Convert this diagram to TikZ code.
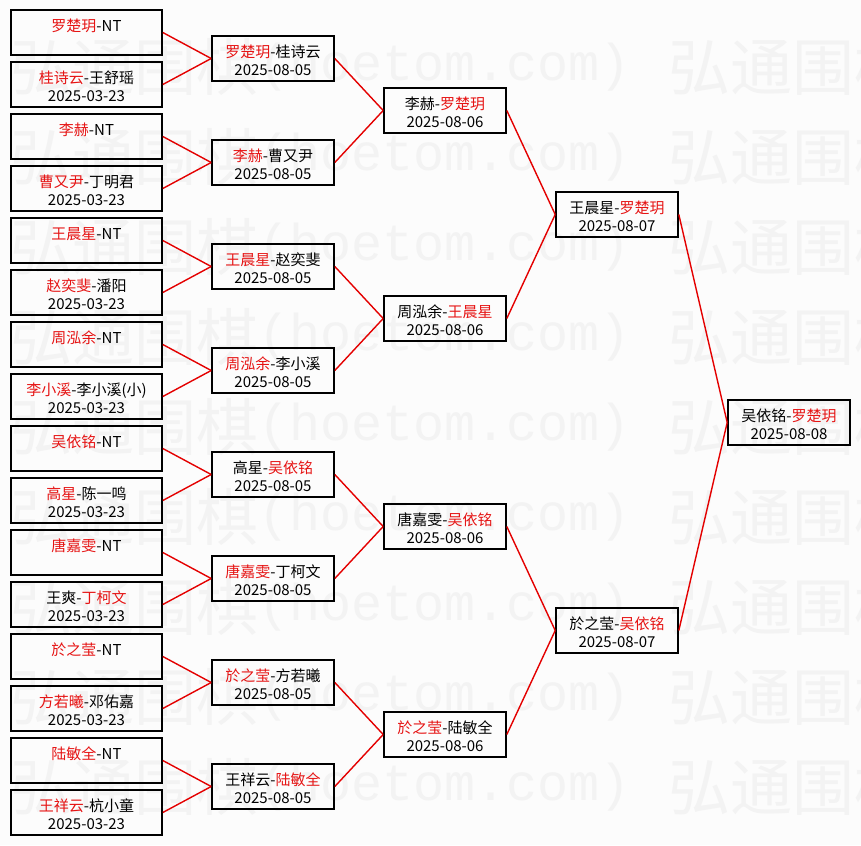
\documentclass[tikz,border=0pt]{standalone}
\usepackage{fontspec}
\setmainfont{Noto Sans CJK SC}
\newfontfamily\wmmono{Liberation Mono}
\definecolor{winred}{RGB}{230,20,20}
\definecolor{linered}{RGB}{228,0,0}
\definecolor{wmgray}{RGB}{243,243,243}
\definecolor{bggray}{RGB}{252,252,252}
\newcommand{\W}[1]{\textcolor{winred}{#1}}
\newcommand{\gm}[5]{%
  \node[#4] (#1) at (#2,#3) {};
  \node[gametext] (#1t) at ([yshift=-1.8pt]#1.center) {#5};}
\begin{document}
\begin{tikzpicture}[x=1pt,y=-1pt,
  gamebox/.style={draw=black, line width=1.6pt, rectangle, inner sep=0pt,
    minimum height=45pt, minimum width=122pt},
  firstbox/.style={gamebox, minimum width=151pt},
  gametext/.style={inner sep=0pt, align=center, font=\fontsize{15}{18.5}\selectfont},
  link/.style={draw=linered, line width=1.4pt},
  wmcjk/.style={text=wmgray, font=\fontsize{62}{62}\selectfont, inner sep=0pt, anchor=west},
  wmlat/.style={text=wmgray, font=\wmmono\fontsize{51.7}{52}\selectfont, inner sep=0pt, anchor=west},
]
\useasboundingbox[fill=bggray] (0,0) rectangle (861,845);

% watermark
\begin{scope}
\clip (0,0) rectangle (861,845);
\foreach \k in {0,...,8}{
  \node[wmcjk] (wa\k) at (10,67+90*\k) {弘通围棋};
  \node[wmlat] (wb\k) at (258,67+90*\k) {(hoetom.com)};
  \node[wmcjk] (wc\k) at (668,67+90*\k) {弘通围棋};
}
\end{scope}

% round 1
\gm{a1}{86.5}{32.5}{firstbox}{\W{罗楚玥}-NT\\\mbox{}}
\gm{a2}{86.5}{84.5}{firstbox}{\W{桂诗云}-王舒瑶\\2025-03-23}
\gm{a3}{86.5}{136.5}{firstbox}{\W{李赫}-NT\\\mbox{}}
\gm{a4}{86.5}{188.5}{firstbox}{\W{曹又尹}-丁明君\\2025-03-23}
\gm{a5}{86.5}{240.5}{firstbox}{\W{王晨星}-NT\\\mbox{}}
\gm{a6}{86.5}{292.5}{firstbox}{\W{赵奕斐}-潘阳\\2025-03-23}
\gm{a7}{86.5}{344.5}{firstbox}{\W{周泓余}-NT\\\mbox{}}
\gm{a8}{86.5}{396.5}{firstbox}{\W{李小溪}-李小溪(小)\\2025-03-23}
\gm{a9}{86.5}{448.5}{firstbox}{\W{吴依铭}-NT\\\mbox{}}
\gm{a10}{86.5}{500.5}{firstbox}{\W{高星}-陈一鸣\\2025-03-23}
\gm{a11}{86.5}{552.5}{firstbox}{\W{唐嘉雯}-NT\\\mbox{}}
\gm{a12}{86.5}{604.5}{firstbox}{王爽-\W{丁柯文}\\2025-03-23}
\gm{a13}{86.5}{656.5}{firstbox}{\W{於之莹}-NT\\\mbox{}}
\gm{a14}{86.5}{708.5}{firstbox}{\W{方若曦}-邓佑嘉\\2025-03-23}
\gm{a15}{86.5}{760.5}{firstbox}{\W{陆敏全}-NT\\\mbox{}}
\gm{a16}{86.5}{812.5}{firstbox}{\W{王祥云}-杭小童\\2025-03-23}

% round 2
\gm{b1}{273}{58.5}{gamebox}{\W{罗楚玥}-桂诗云\\2025-08-05}
\gm{b2}{273}{162.5}{gamebox}{\W{李赫}-曹又尹\\2025-08-05}
\gm{b3}{273}{266.5}{gamebox}{\W{王晨星}-赵奕斐\\2025-08-05}
\gm{b4}{273}{370.5}{gamebox}{\W{周泓余}-李小溪\\2025-08-05}
\gm{b5}{273}{474.5}{gamebox}{高星-\W{吴依铭}\\2025-08-05}
\gm{b6}{273}{578.5}{gamebox}{\W{唐嘉雯}-丁柯文\\2025-08-05}
\gm{b7}{273}{682.5}{gamebox}{\W{於之莹}-方若曦\\2025-08-05}
\gm{b8}{273}{786.5}{gamebox}{王祥云-\W{陆敏全}\\2025-08-05}

% round 3
\gm{c1}{445}{110.5}{gamebox}{李赫-\W{罗楚玥}\\2025-08-06}
\gm{c2}{445}{318.5}{gamebox}{周泓余-\W{王晨星}\\2025-08-06}
\gm{c3}{445}{526.5}{gamebox}{唐嘉雯-\W{吴依铭}\\2025-08-06}
\gm{c4}{445}{734.5}{gamebox}{\W{於之莹}-陆敏全\\2025-08-06}

% round 4
\gm{d1}{617}{214.5}{gamebox}{王晨星-\W{罗楚玥}\\2025-08-07}
\gm{d2}{617}{630.5}{gamebox}{於之莹-\W{吴依铭}\\2025-08-07}

% final
\gm{e1}{789}{422.5}{gamebox}{吴依铭-\W{罗楚玥}\\2025-08-08}

% connectors
\foreach \i in {1,...,16}{
  \pgfmathtruncatemacro\p{(\i+1)/2}
  \draw[link] (a\i.east) -- (b\p.west);
}
\foreach \i in {1,...,8}{
  \pgfmathtruncatemacro\p{(\i+1)/2}
  \draw[link] (b\i.east) -- (c\p.west);
}
\foreach \i in {1,...,4}{
  \pgfmathtruncatemacro\p{(\i+1)/2}
  \draw[link] (c\i.east) -- (d\p.west);
}
\draw[link] (d1.east) -- (e1.west);
\draw[link] (d2.east) -- (e1.west);
\end{tikzpicture}
\end{document}
